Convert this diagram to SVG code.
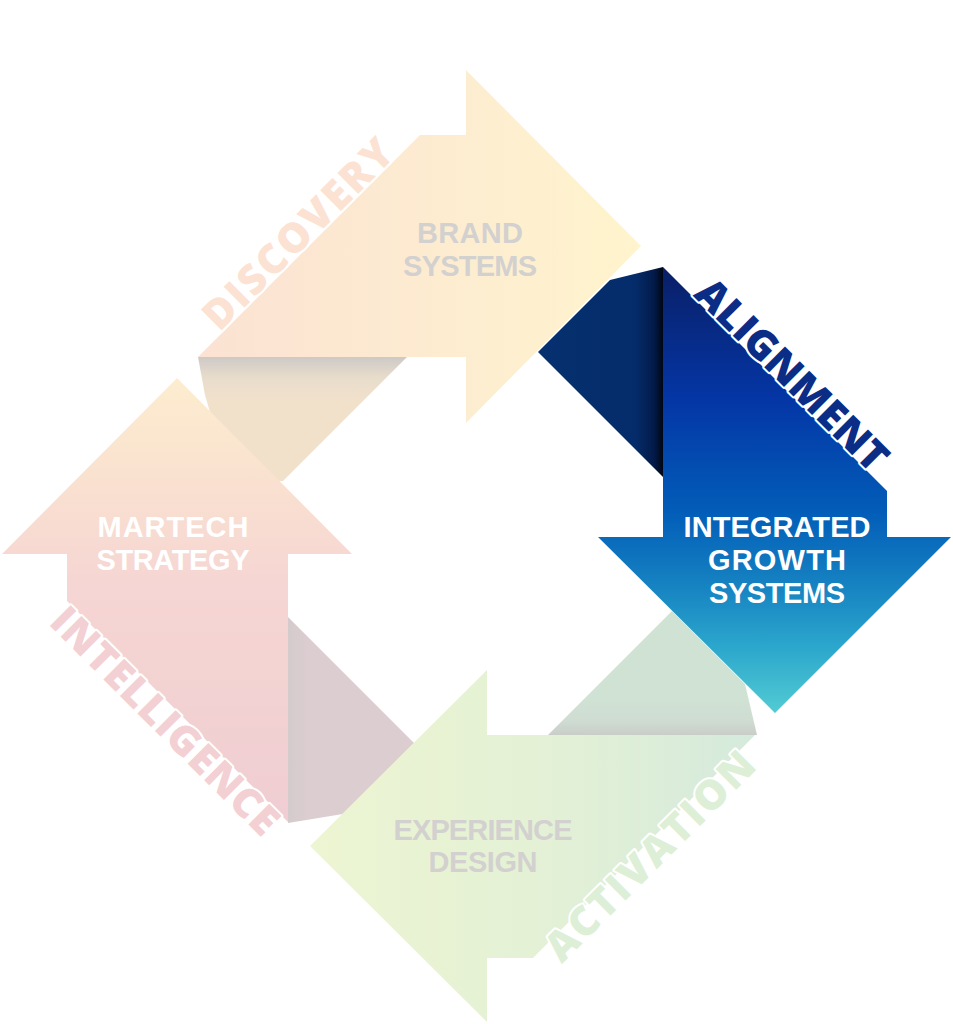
<svg xmlns="http://www.w3.org/2000/svg" width="953" height="1024" viewBox="0 0 953 1024">
<defs>
<linearGradient id="gTop" gradientUnits="userSpaceOnUse" x1="198" y1="0" x2="641" y2="0">
<stop offset="0" stop-color="#fbe2d3"/><stop offset="0.5" stop-color="#fdebd1"/><stop offset="1" stop-color="#fff4cd"/>
</linearGradient>
<linearGradient id="gLeft" gradientUnits="userSpaceOnUse" x1="0" y1="378" x2="0" y2="822">
<stop offset="0" stop-color="#fdedcf"/><stop offset="0.25" stop-color="#f9e0d0"/><stop offset="0.45" stop-color="#f6d6d3"/><stop offset="1" stop-color="#efcdd2"/>
</linearGradient>
<linearGradient id="gBottom" gradientUnits="userSpaceOnUse" x1="310" y1="0" x2="757" y2="0">
<stop offset="0" stop-color="#edf5d2"/><stop offset="0.5" stop-color="#e4f1d5"/><stop offset="1" stop-color="#d5eadc"/>
</linearGradient>
<linearGradient id="gBlue" gradientUnits="userSpaceOnUse" x1="0" y1="267" x2="0" y2="713">
<stop offset="0" stop-color="#0a1f66"/><stop offset="0.3" stop-color="#0436a6"/><stop offset="0.55" stop-color="#025db8"/><stop offset="0.72" stop-color="#1784c2"/><stop offset="0.85" stop-color="#2ba6cc"/><stop offset="1" stop-color="#52cbd3"/>
</linearGradient>
<linearGradient id="gBlueFold" gradientUnits="userSpaceOnUse" x1="538" y1="0" x2="663" y2="0">
<stop offset="0" stop-color="#06306f"/><stop offset="0.78" stop-color="#052c6a"/><stop offset="0.93" stop-color="#021a48"/><stop offset="1" stop-color="#000614"/>
</linearGradient>
<linearGradient id="gTopFold" gradientUnits="userSpaceOnUse" x1="0" y1="357" x2="0" y2="400">
<stop offset="0" stop-color="#cdc9c6"/><stop offset="0.45" stop-color="#e7dccb"/><stop offset="1" stop-color="#f1e1cb"/>
</linearGradient>
<linearGradient id="gLeftFold" gradientUnits="userSpaceOnUse" x1="288" y1="0" x2="310" y2="0">
<stop offset="0" stop-color="#d4cbcc"/><stop offset="1" stop-color="#dccdd1"/>
</linearGradient>
<linearGradient id="gGreenFold" gradientUnits="userSpaceOnUse" x1="0" y1="700" x2="0" y2="735">
<stop offset="0" stop-color="#cfe2d4"/><stop offset="0.6" stop-color="#cfdcd2"/><stop offset="1" stop-color="#c9cdc8"/>
</linearGradient>
<style>
.lbl{font-family:"Liberation Sans",Arial,sans-serif;font-weight:700;font-size:29px;text-anchor:middle}
.diag{font-family:"Open Sans","Liberation Sans",sans-serif;font-weight:800;font-size:41px;text-anchor:middle;stroke:#ffffff;stroke-width:4;paint-order:stroke;stroke-linejoin:round}
.gray{fill:#d2d1cf}
.white{fill:#ffffff}
</style>
</defs>
<rect width="953" height="1024" fill="#ffffff"/>

<g id="connectors">
<polygon id="fold-brand" points="198,357 407,357 283,481 230,481 205,395" fill="url(#gTopFold)"/>
<polygon id="fold-martech" points="288,617 420,749 355,812 288,823" fill="url(#gLeftFold)"/>
<polygon id="fold-experience" points="548,735 672,611 745,684 757,735" fill="url(#gGreenFold)"/>
<polygon id="fold-growth" points="538,352 610,280 663,267 663,477" fill="url(#gBlueFold)"/>
</g>

<g id="node-brand">
<polygon points="420,135 466,135 466,70 641,246 466,423 466,357 198,357" fill="url(#gTop)"/>
<text class="lbl gray" x="470" y="243" textLength="106">BRAND</text>
<text class="lbl gray" x="470" y="276" textLength="134">SYSTEMS</text>
<text class="diag" fill="#fce2d2" transform="translate(308,244) rotate(-45)" textLength="250">DISCOVERY</text>
</g>

<g id="node-martech">
<polygon points="177,378 352,554 288,554 288,822 67,601 67,554 2,554" fill="url(#gLeft)"/>
<text class="lbl white" x="173" y="537" textLength="151">MARTECH</text>
<text class="lbl white" x="173" y="570" textLength="153">STRATEGY</text>
<text class="diag" fill="#f3d0d3" transform="translate(155,731) rotate(45)" textLength="303">INTELLIGENCE</text>
</g>

<g id="node-experience">
<polygon points="310,846 487,670 487,735 755,735 533,958 487,958 487,1022" fill="url(#gBottom)"/>
<text class="lbl gray" x="483" y="840" textLength="179">EXPERIENCE</text>
<text class="lbl gray" x="483" y="872" textLength="109">DESIGN</text>
<text class="diag" fill="#ddefd6" transform="translate(660,866) rotate(-45)" textLength="278">ACTIVATION</text>
</g>

<g id="node-growth">
<polygon points="663,267 887,491 887,537 951,537 775,713 598,537 663,537" fill="url(#gBlue)"/>
<text class="lbl white" x="777" y="537" textLength="187">INTEGRATED</text>
<text class="lbl white" x="777" y="570" textLength="138">GROWTH</text>
<text class="lbl white" x="777" y="603" textLength="136">SYSTEMS</text>
<text class="diag" fill="#0b2d86" transform="translate(782,385) rotate(45)" textLength="253">ALIGNMENT</text>
</g>
</svg>
